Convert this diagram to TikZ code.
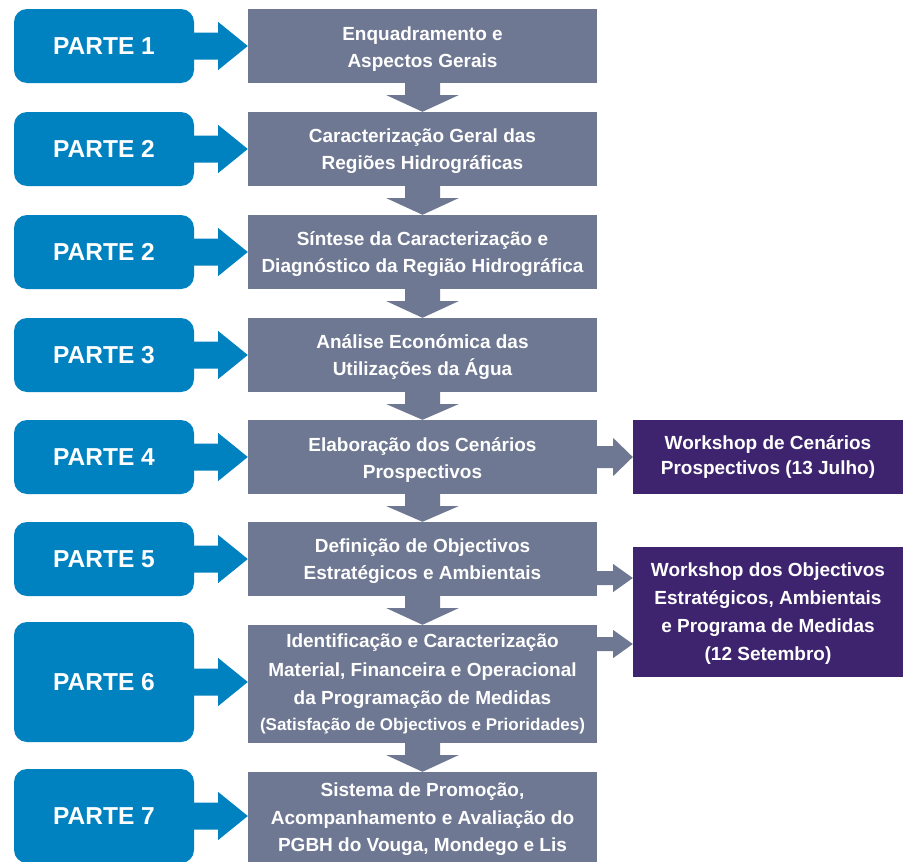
\documentclass[tikz,border=0pt]{standalone}
\usepackage{fontspec}
\setmainfont{Liberation Sans}
\usetikzlibrary{calc}
\definecolor{bluec}{RGB}{0,130,192}
\definecolor{grayc}{RGB}{111,120,146}
\definecolor{purplec}{RGB}{62,36,110}
\newcommand{\topstrut}{\rule{0pt}{19pt}}
\tikzset{
  partbox/.style={fill=bluec, rounded corners=13pt, minimum width=180pt, inner sep=0pt,
    text=white, font=\bfseries\fontsize{24.5}{28}\selectfont},
  stagebox/.style={fill=grayc, minimum width=349pt, inner sep=0pt, text=white, align=center,
    font=\bfseries\fontsize{19}{27}\selectfont},
  wsbox/.style={fill=purplec, minimum width=270pt, inner sep=0pt, text=white, align=center,
    font=\bfseries\fontsize{19}{27}\selectfont},
}
\newcommand{\downblock}[2]{%
  \fill[grayc] let \p1=(#1.south), \p2=(#2.north) in
    (\x1-17.5pt,\y1+0.5pt) -- (\x1+17.5pt,\y1+0.5pt) -- (\x1+17.5pt,\y1-12pt) --
    (\x1+36pt,\y1-12pt) -- (\x1,\y2) -- (\x1-36pt,\y1-12pt) --
    (\x1-17.5pt,\y1-12pt) -- cycle;}
\newcommand{\partarrow}[2]{%
  \fill[bluec] let \p1=(#1.east), \p2=(#2.west) in
    (\x1-0.5pt,\y1+13.5pt) -- (\x1+24pt,\y1+13.5pt) -- (\x1+24pt,\y1+24pt) --
    (\x2,\y1) -- (\x1+24pt,\y1-24pt) -- (\x1+24pt,\y1-13.5pt) --
    (\x1-0.5pt,\y1-13.5pt) -- cycle;}
\newcommand{\wsarrow}[5]{%
  \fill[grayc] let \p1=(#1.east), \p2=(#2.west), \p3=(0,#3) in
    (\x1-0.5pt,\y3+#4pt) -- (\x1+16pt,\y3+#4pt) -- (\x1+16pt,\y3+#5pt) --
    (\x2,\y3) -- (\x1+16pt,\y3-#5pt) -- (\x1+16pt,\y3-#4pt) --
    (\x1-0.5pt,\y3-#4pt) -- cycle;}
\begin{document}
\begin{tikzpicture}[x=1pt,y=-1pt]
\clip (0,0) rectangle (903,862);
\fill[white] (0,0) rectangle (903,862);

% blue part boxes
\node[partbox, minimum height=74pt] (p1) at (104,46) {PARTE 1};
\node[partbox, minimum height=74pt] (p2) at (104,149) {PARTE 2};
\node[partbox, minimum height=74pt] (p3) at (104,252) {PARTE 2};
\node[partbox, minimum height=74pt] (p4) at (104,355) {PARTE 3};
\node[partbox, minimum height=74pt] (p5) at (104,457) {PARTE 4};
\node[partbox, minimum height=74pt] (p6) at (104,559) {PARTE 5};
\node[partbox, minimum height=120pt] (p7) at (104,682) {PARTE 6};
\node[partbox, minimum height=94pt] (p8) at (104,816) {PARTE 7};

% gray stage boxes
\node[stagebox, minimum height=74pt] (g1) at (422.5,46) {\topstrut Enquadramento e\\Aspectos Gerais};
\node[stagebox, minimum height=74pt] (g2) at (422.5,149) {\topstrut Caracterização Geral das\\Regiões Hidrográficas};
\node[stagebox, minimum height=74pt] (g3) at (422.5,252) {\topstrut Síntese da Caracterização e\\Diagnóstico da Região Hidrográfica};
\node[stagebox, minimum height=74pt] (g4) at (422.5,355) {\topstrut Análise Económica das\\Utilizações da Água};
\node[stagebox, minimum height=74pt] (g5) at (422.5,457) {\topstrut Elaboração dos Cenários\\Prospectivos};
\node[stagebox, minimum height=74pt] (g6) at (422.5,559) {\topstrut Definição de Objectivos\\Estratégicos e Ambientais};
\node[stagebox, minimum height=118pt, font=\bfseries\fontsize{19}{28.5}\selectfont] (g7) at (422.5,684)
  {Identificação e Caracterização\\Material, Financeira e Operacional\\da Programação de Medidas\\[-3pt]{\fontsize{17}{25}\selectfont (Satisfação de Objectivos e Prioridades)}};
\node[stagebox, minimum height=94pt, font=\bfseries\fontsize{19}{27.5}\selectfont] (g8) at (422.5,819)
  {\rule{0pt}{15pt}Sistema de Promoção,\\Acompanhamento e Avaliação do\\PGBH do Vouga, Mondego e Lis\rule[-4.5pt]{0pt}{4.5pt}};

% purple workshop boxes
\node[wsbox, minimum height=74pt, font=\bfseries\fontsize{19}{25}\selectfont] (w1) at (768,457) {Workshop de Cenários\\Prospectivos (13 Julho)};
\node[wsbox, minimum height=130pt, font=\bfseries\fontsize{19}{28}\selectfont] (w2) at (768,612)
  {\rule{0pt}{17pt}Workshop dos Objectivos\\Estratégicos, Ambientais\\e Programa de Medidas\\(12 Setembro)};

% blue arrows
\partarrow{p1}{g1}
\partarrow{p2}{g2}
\partarrow{p3}{g3}
\partarrow{p4}{g4}
\partarrow{p5}{g5}
\partarrow{p6}{g6}
\partarrow{p7}{g7}
\partarrow{p8}{g8}

% down arrows
\downblock{g1}{g2}
\downblock{g2}{g3}
\downblock{g3}{g4}
\downblock{g4}{g5}
\downblock{g5}{g6}
\downblock{g6}{g7}
\downblock{g7}{g8}

% workshop arrows
\wsarrow{g5}{w1}{457}{11}{19}
\wsarrow{g6}{w2}{578}{7}{14}
\wsarrow{g7}{w2}{644}{7}{14}
\end{tikzpicture}
\end{document}
